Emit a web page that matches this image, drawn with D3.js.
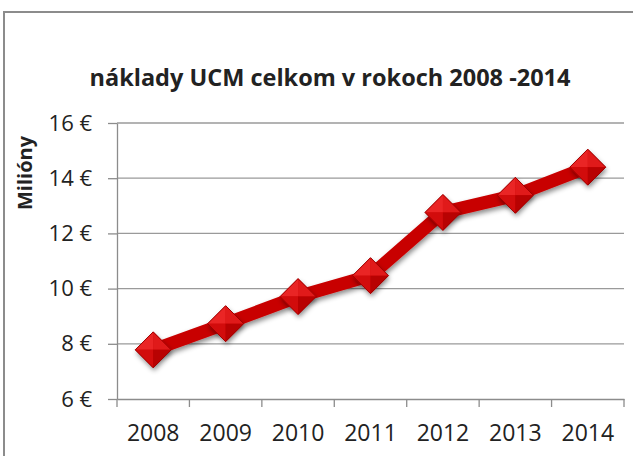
<!DOCTYPE html>
<html>
<head>
<meta charset="utf-8">
<script src="https://cdn.jsdelivr.net/npm/d3@7"></script>
<style>
  html, body { margin: 0; padding: 0; background: #fff; }
  svg { display: block; }
  text { font-family: 'Open Sans', 'Noto Sans', sans-serif; fill: #222; }
</style>
</head>
<body>
<svg width="633" height="456"></svg>
<script>
const years = ['2008', '2009', '2010', '2011', '2012', '2013', '2014']
const costs = [7.78, 8.73, 9.71, 10.47, 12.76, 13.38, 14.4]
const yTicks = [6, 8, 10, 12, 14, 16]

const svg = d3.select('svg')
const width = +svg.attr('width')
const height = +svg.attr('height')

const margin = { top: 123, right: 9, bottom: 57, left: 117 }
const innerWidth = width - margin.left - margin.right
const innerHeight = height - margin.top - margin.bottom

// chart frame, only left and top edges are visible
svg.append('path')
  .attr('d', `M4,${height}V12H${width}`)
  .attr('fill', 'none')
  .attr('stroke', '#8c8c8c')
  .attr('stroke-width', 2)

svg.append('text')
  .attr('x', 330).attr('y', 86)
  .attr('text-anchor', 'middle')
  .style('font-size', '23.5px')
  .style('font-weight', 'bold')
  .attr('fill', '#111')
  .text('náklady UCM celkom v rokoch 2008 -2014')

const xScale = d3.scaleBand()
  .domain(years)
  .range([0, innerWidth])

const yScale = d3.scaleLinear()
  .domain([6, 16])
  .range([innerHeight, 0])

const g = svg.append('g')
  .attr('transform', `translate(${margin.left}, ${margin.top})`)

// gridlines
g.append('g').selectAll('line').data(yTicks.slice(1))
  .enter().append('line')
  .attr('x1', 0).attr('x2', innerWidth)
  .attr('y1', d => yScale(d)).attr('y2', d => yScale(d))
  .attr('stroke', '#9a9a9a')
  .attr('stroke-width', 1.3)

const yAxis = d3.axisLeft(yScale)
  .tickValues(yTicks)
  .tickSizeInner(9)
  .tickSizeOuter(0)
  .tickPadding(16)
  .tickFormat(d => d + ' €')

const yAxisG = g.append('g').call(yAxis)
yAxisG.selectAll('path, line').attr('stroke', '#8c8c8c').attr('stroke-width', 1.3)
yAxisG.selectAll('text')
  .style('font-size', '22px')
  .style('font-family', "'Open Sans', sans-serif")
  .attr('fill', '#222')

const xAxis = d3.axisBottom(xScale)
  .tickSize(0)
  .tickPadding(26)

const xAxisG = g.append('g').call(xAxis)
  .attr('transform', `translate(0, ${innerHeight})`)
xAxisG.select('.domain').attr('stroke', '#8c8c8c').attr('stroke-width', 1.3)
xAxisG.selectAll('text')
  .style('font-size', '23px')
  .style('font-family', "'Open Sans', sans-serif")
  .attr('fill', '#222')

// category boundary ticks
const bounds = years.map(d => xScale(d)).concat([xScale(years[years.length - 1]) + xScale.bandwidth()])
xAxisG.selectAll('.bound').data(bounds)
  .enter().append('line')
  .attr('class', 'bound')
  .attr('x1', d => d).attr('x2', d => d)
  .attr('y1', 0).attr('y2', 8)
  .attr('stroke', '#8c8c8c')
  .attr('stroke-width', 1.3)

svg.append('text')
  .attr('transform', 'translate(32, 173) rotate(-90)')
  .attr('text-anchor', 'middle')
  .style('font-size', '20px')
  .style('font-weight', 'bold')
  .attr('fill', '#000')
  .text('Milióny')

// shadow for line and markers
const defs = svg.append('defs')
const shadow = defs.append('filter').attr('id', 'shadow')
  .attr('x', '-50%').attr('y', '-50%').attr('width', '200%').attr('height', '200%')
shadow.append('feDropShadow')
  .attr('dx', 1).attr('dy', 3).attr('stdDeviation', 2.5)
  .attr('flood-color', '#000').attr('flood-opacity', 0.45)

const data = years.map((y, i) => ({ year: y, value: costs[i] }))
const xValue = d => xScale(d.year) + xScale.bandwidth() / 2
const yValue = d => yScale(d.value)

const line = d3.line().x(xValue).y(yValue)

g.append('path')
  .datum(data)
  .attr('d', line)
  .attr('fill', 'none')
  .attr('stroke', '#c80000')
  .attr('stroke-width', 13)
  .attr('stroke-linejoin', 'round')
  .attr('filter', 'url(#shadow)')

const r = 18
const facets = [
  { pts: [[0, -r], [r, 0], [0, 0]], fill: '#e01a1a' },
  { pts: [[0, -r], [-r, 0], [0, 0]], fill: '#ea2525' },
  { pts: [[-r, 0], [0, r], [0, 0]], fill: '#d20c0c' },
  { pts: [[r, 0], [0, r], [0, 0]], fill: '#b80202' }
]

const markers = g.selectAll('.marker').data(data)
  .enter().append('g')
  .attr('class', 'marker')
  .attr('transform', d => `translate(${xValue(d)}, ${yValue(d)})`)

markers.append('path')
  .attr('d', `M0,${-r}L${r},0L0,${r}L${-r},0Z`)
  .attr('fill', '#c80000')
  .attr('filter', 'url(#shadow)')

facets.forEach(f => {
  markers.append('path')
    .attr('d', 'M' + f.pts.map(p => p.join(',')).join('L') + 'Z')
    .attr('fill', f.fill)
})

markers.append('path')
  .attr('d', `M0,${-r}L${r},0L0,${r}L${-r},0Z`)
  .attr('fill', 'none')
  .attr('stroke', '#a00000')
  .attr('stroke-width', 1)
</script>
</body>
</html>
